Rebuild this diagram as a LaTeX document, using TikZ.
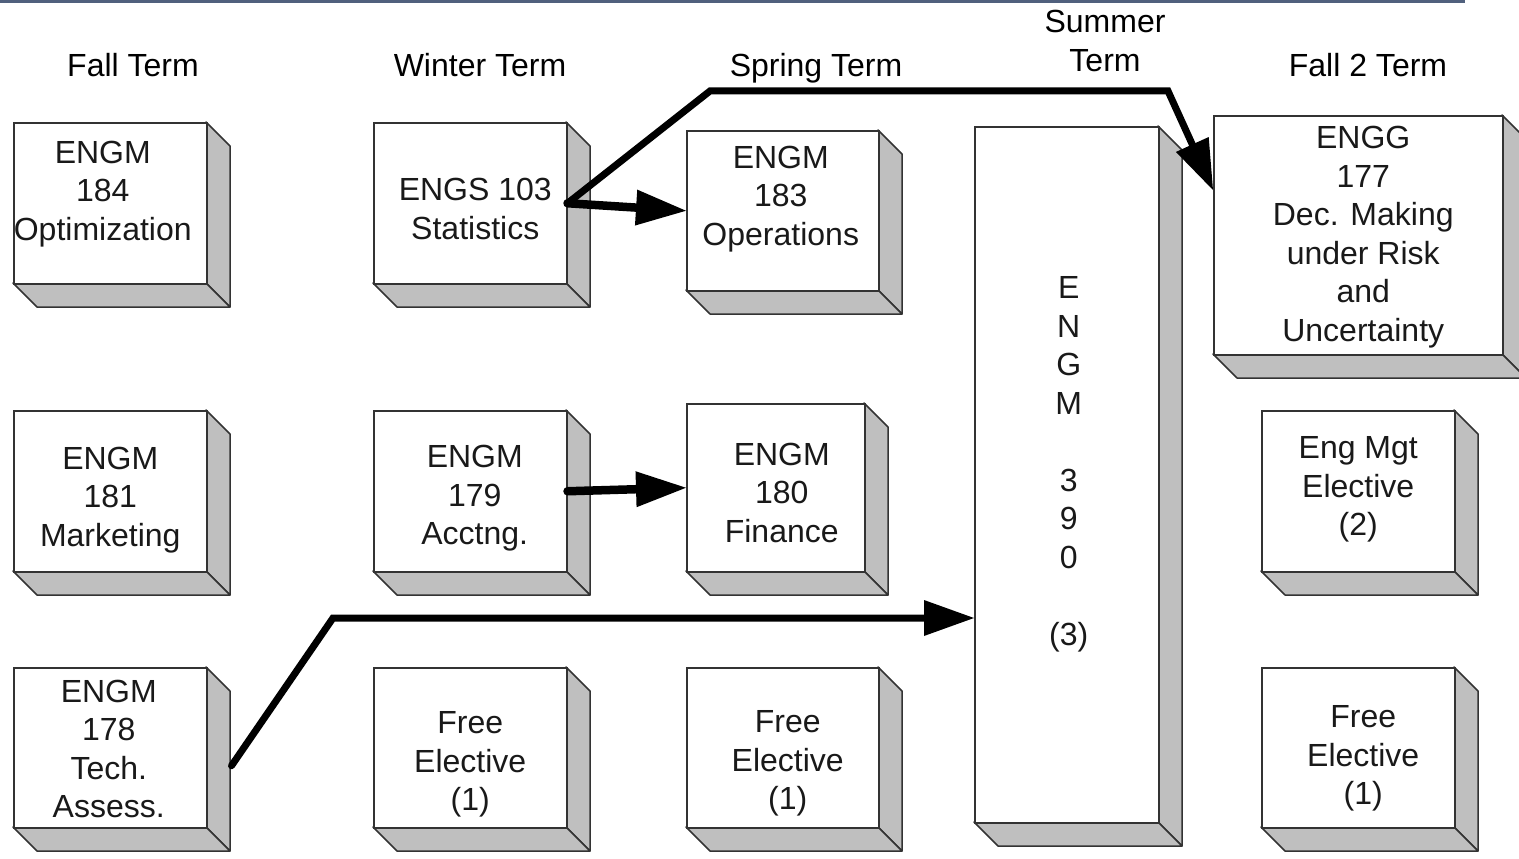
\documentclass[tikz,border=0pt]{standalone}
\usepackage{fontspec}
\setmainfont{Liberation Sans}
\usetikzlibrary{arrows.meta,calc}
\newcommand{\Depth}{24}
\colorlet{frontFill}{white}
\colorlet{sideFill}{black!25}
\colorlet{edgeStroke}{black!80}
\colorlet{flowColor}{black}
\definecolor{ruleColor}{RGB}{80,96,125}
\newcommand{\CourseBox}[8]{%
  % #1 name, #2 left, #3 top, #4 width, #5 height, #6 text dx, #7 text dy, #8 text
  \pgfmathsetmacro{\Right}{#2+#4}
  \pgfmathsetmacro{\Bottom}{#3+#5}
  \filldraw[side] (\Right,#3) -- (\Right+\Depth,#3+\Depth)
    -- (\Right+\Depth,\Bottom+\Depth) -- (\Right,\Bottom) -- cycle;
  \filldraw[side] (#2,\Bottom) -- (\Right,\Bottom)
    -- (\Right+\Depth,\Bottom+\Depth) -- (#2+\Depth,\Bottom+\Depth) -- cycle;
  \node[front,minimum width=#4pt,minimum height=#5pt] (#1) at (#2,#3) {};
  \node[course] (#1-text) at ($(#1.center)+(#6,#7)$) {#8};
}

\begin{document}
\begin{tikzpicture}[
  x=1pt, y=-1pt,
  side/.style={fill=sideFill,draw=edgeStroke,line width=1.5pt,line join=round},
  front/.style={rectangle,draw=edgeStroke,fill=frontFill,line width=1.5pt,
    anchor=north west,inner sep=0pt},
  course/.style={align=center,inner sep=0pt,text=black!90,
    font=\fontsize{32}{38.5}\selectfont},
  term/.style={align=center,inner sep=0pt,
    font=\fontsize{32}{38.5}\selectfont},
  flow/.style={draw=flowColor,line width=7pt,line cap=round,
    -{Triangle[length=50pt,width=36pt,line width=0pt]}}
]
\useasboundingbox (0,0) rectangle (1519,859);

% Top rule
\draw[ruleColor,line width=3pt] (0,1.5) -- (1465,1.5);

% Term headings
\node[term] (fallhead) at (133,65) {Fall Term};
\node[term] (winterhead) at (480,65) {Winter Term};
\node[term] (springhead) at (816,68) {Spring Term};
\node[term] (summerhead) at (1105,41) {Summer\\Term};
\node[term] (falltwohead) at (1368,65) {Fall 2 Term};

% Courses
\CourseBox{opt}{13}{122}{193}{161}{-7.5}{-9.5}{ENGM\\184\\Optimization}
\CourseBox{stats}{373}{122}{193}{161}{5}{5.5}{ENGS 103\\Statistics}
\CourseBox{ops}{686}{130}{192}{160}{-2}{-12}{ENGM\\183\\Operations}
\CourseBox{engm}{974}{126}{184}{696}{2}{-10.5}{E\\N\\G\\M\\[38.5pt]3\\9\\0\\[38.5pt](3)}
\CourseBox{dec}{1213}{115}{289}{239}{5}{2}{ENGG\\177\\Dec. Making\\under Risk\\and\\Uncertainty}
\CourseBox{mkt}{13}{410}{193}{161}{0}{8.5}{ENGM\\181\\Marketing}
\CourseBox{acct}{373}{410}{193}{161}{4.5}{7}{ENGM\\179\\Acctng.}
\CourseBox{fin}{686}{403}{178}{168}{6}{5}{ENGM\\180\\Finance}
\CourseBox{mgtel}{1261}{410}{193}{161}{0}{-1.5}{Eng Mgt\\Elective\\(2)}
\CourseBox{tech}{13}{667}{193}{160}{-1.5}{1}{ENGM\\178\\Tech.\\Assess.}
\CourseBox{freew}{373}{667}{193}{160}{0}{17}{Free\\Elective\\(1)}
\CourseBox{frees}{686}{667}{192}{160}{5}{16}{Free\\Elective\\(1)}
\CourseBox{freef}{1261}{667}{193}{160}{5}{11}{Free\\Elective\\(1)}

% Bends
\coordinate (topbendA) at (710,91);
\coordinate (topbendB) at (1168,91);
\coordinate (decin) at ($(dec.north west)+(0,75)$);
\coordinate (techout) at ($(tech.east)+(\Depth,18)$);
\coordinate (lowbend) at (333,618);

% Prerequisites
\draw[flow,line width=8.5pt] (stats.east) -- (ops.west);
\draw[flow,line width=8.5pt] (acct.east) -- (fin.west);
\draw[flow] (stats.east) -- (topbendA) -- (topbendB) -- (decin);
\draw[flow] (techout) -- (lowbend) -- (lowbend -| engm.west);

\end{tikzpicture}
\end{document}
